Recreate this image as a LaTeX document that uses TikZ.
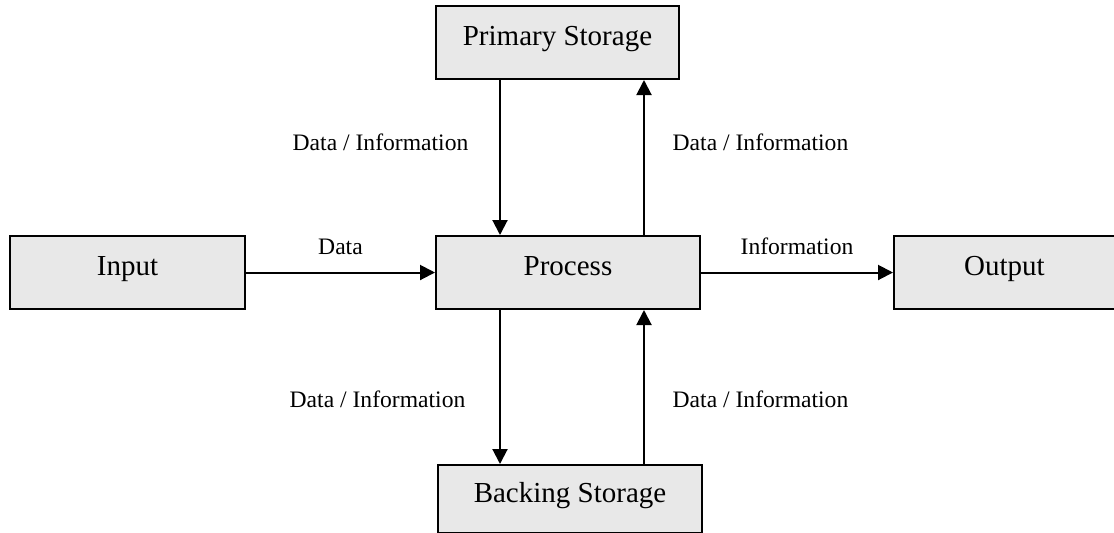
\documentclass[tikz,border=0pt]{standalone}
\usepackage{fontspec}
\setmainfont{Liberation Serif}
\usetikzlibrary{arrows.meta,positioning,calc}
\definecolor{boxgray}{RGB}{232,232,232}

\begin{document}
\begin{tikzpicture}[
  x=0.5pt, y=-0.5pt,
  box/.style={draw, line width=1pt, fill=boxgray, minimum height=36.5pt, font=\fontsize{14.5}{17}\selectfont, text height=9.6pt, text depth=6.6pt},
  arr/.style={-{Triangle[length=7.5pt,width=7.5pt]}, line width=1pt},
  lbl/.style={font=\fontsize{11.8}{14}\selectfont}
]
\useasboundingbox (0,0) rectangle (1114,532);
\node[box, minimum width=132pt] (proc) at (568,272.5) {Process};
\node[box, minimum width=117.5pt, left=94.5pt of proc] (in) {Input};
\node[box, minimum width=110.5pt, right=96pt of proc] (out) {Output};
\node[box, minimum width=121.5pt, above=77.5pt of proc, xshift=-5.25pt] (prim) {Primary Storage};
\node[box, minimum width=132pt, minimum height=34pt, below=77pt of proc, xshift=1pt] (back) {Backing Storage};
\coordinate (dn) at (500,0);
\coordinate (up) at (644,0);

\draw[arr] (in) -- (proc) node[lbl, midway, above=5pt] {Data};
\draw[arr] (proc) -- (out) node[lbl, midway, above=5pt] {Information};
\draw[arr] (prim.south -| dn) -- (proc.north -| dn) node[lbl, pos=0.4, left=12pt] {Data / Information};
\draw[arr] (proc.north -| up) -- (prim.south -| up) node[lbl, pos=0.6, right=10.5pt] {Data / Information};
\draw[arr] (proc.south -| dn) -- (back.north -| dn) node[lbl, pos=0.58, left=13.5pt] {Data / Information};
\draw[arr] (back.north -| up) -- (proc.south -| up) node[lbl, pos=0.42, right=10.5pt] {Data / Information};
\end{tikzpicture}
\end{document}
